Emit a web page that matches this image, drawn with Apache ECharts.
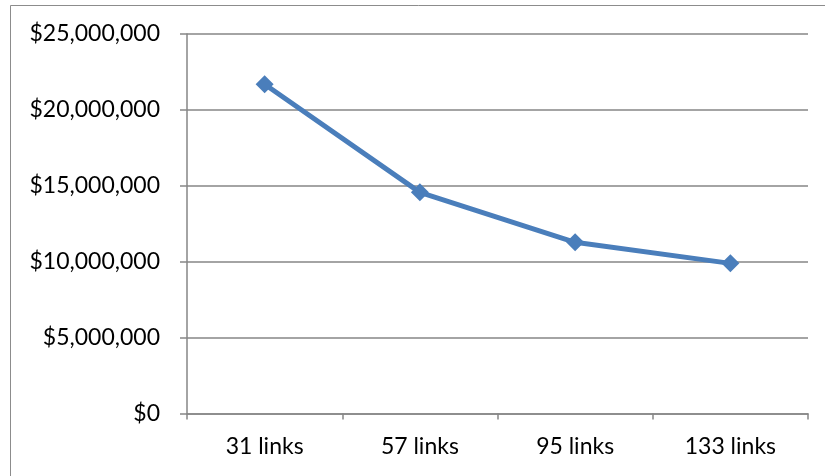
<!DOCTYPE html>
<html>
<head>
<meta charset="utf-8">
<script src="https://cdn.jsdelivr.net/npm/echarts@6/dist/echarts.min.js"></script>
<style>
  html, body { margin: 0; padding: 0; background: #ffffff; }
  #chart { width: 825px; height: 476px; }
</style>
</head>
<body>
<div id="chart"></div>
<script>
// Cost by number of links
const categories = ['31 links', '57 links', '95 links', '133 links'];
const costValues = [21690000, 14570000, 11280000, 9890000];
const yTicks = { min: 0, max: 25000000, interval: 5000000 };

const FONT = 'Lato';
const AXIS_GRAY = '#868686';

function formatDollars(v) {
  return '$' + Math.round(v).toString().replace(/\B(?=(\d{3})+(?!\d))/g, ',');
}

const chart = echarts.init(document.getElementById('chart'), null, { renderer: 'canvas' });

chart.setOption({
  animation: false,
  backgroundColor: '#ffffff',
  graphic: [{
    type: 'rect',
    shape: { x: 10.5, y: 5.5, width: 900, height: 600 },
    style: { fill: 'none', stroke: '#8c8c8c', lineWidth: 1 },
    silent: true,
    z: -1
  }],
  grid: { left: 187, right: 17, top: 34, bottom: 62.5, containLabel: false },
  xAxis: {
    type: 'category',
    data: categories,
    boundaryGap: true,
    axisLine: { lineStyle: { color: AXIS_GRAY, width: 1.5 } },
    axisTick: { show: true, length: 6, alignWithLabel: false, lineStyle: { color: AXIS_GRAY, width: 1.5 } },
    axisLabel: { color: '#000', fontFamily: FONT, fontSize: 23, margin: 22 },
    splitLine: { show: false }
  },
  yAxis: {
    type: 'value',
    min: yTicks.min,
    max: yTicks.max,
    interval: yTicks.interval,
    axisLine: { show: true, lineStyle: { color: AXIS_GRAY, width: 1.5 } },
    axisTick: { show: true, length: 7, lineStyle: { color: AXIS_GRAY, width: 1.5 } },
    axisLabel: { color: '#000', fontFamily: FONT, fontSize: 23, margin: 27, formatter: formatDollars },
    splitLine: { show: true, lineStyle: { color: AXIS_GRAY, width: 1.5 } }
  },
  series: [{
    type: 'line',
    data: costValues,
    symbol: 'diamond',
    symbolSize: 18,
    lineStyle: { color: '#4a7ebb', width: 5 },
    itemStyle: { color: '#4a7ebb' },
    z: 3
  }]
});
</script>
</body>
</html>
